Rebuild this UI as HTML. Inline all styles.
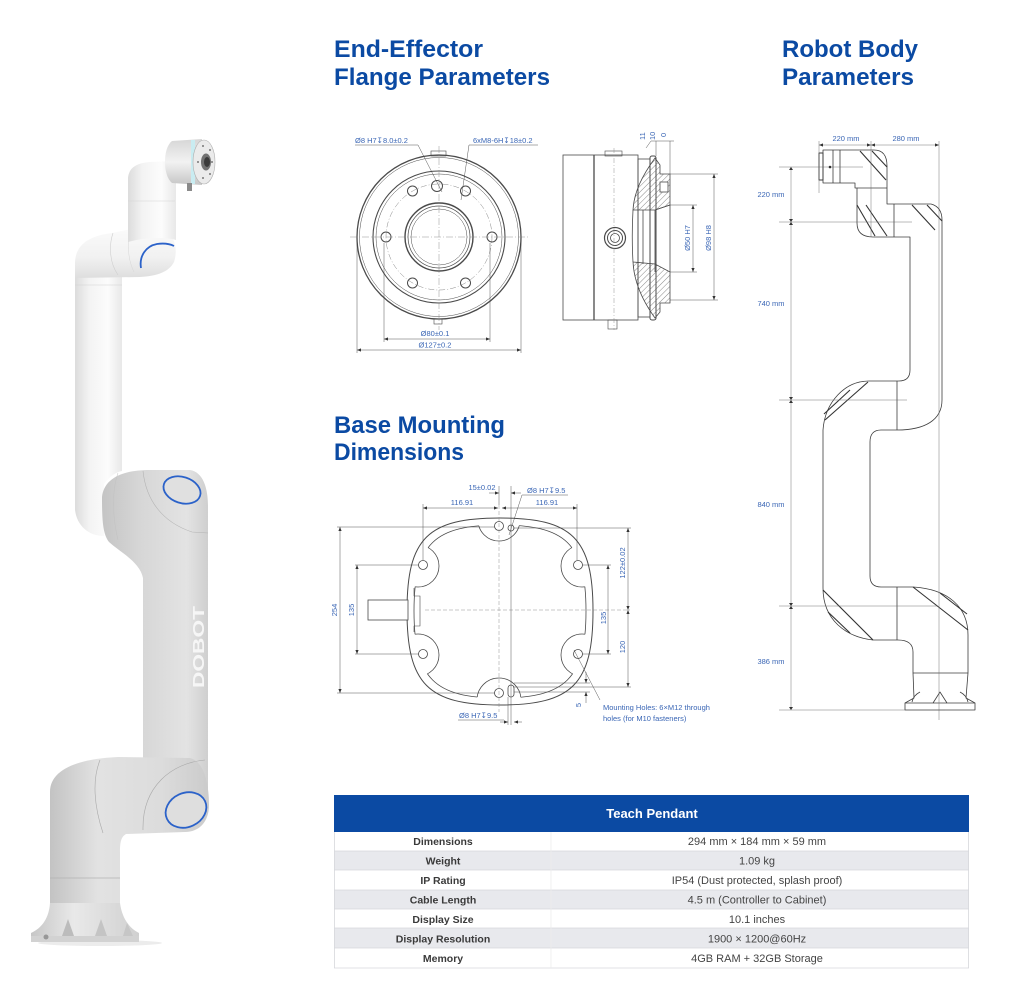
<!DOCTYPE html>
<html><head><meta charset="utf-8"><style>
html,body{margin:0;padding:0;background:#fff;width:1024px;height:997px;overflow:hidden;}
svg{display:block;}
text{font-family:"Liberation Sans","DejaVu Sans",sans-serif;}
.lb{fill:#3a66b5;font-size:7.5px;}
.th{fill:#3a3a3a;font-size:10.5px;font-weight:bold;}
.tv{fill:#444;font-size:11px;}
</style></head><body>
<svg width="1024" height="997" viewBox="0 0 1024 997" xmlns="http://www.w3.org/2000/svg">
<defs>
 <marker id="a" viewBox="0 0 6 6" refX="6" refY="3" markerWidth="4" markerHeight="4" markerUnits="userSpaceOnUse" orient="auto-start-reverse"><path d="M0,0.6 L6,3 L0,5.4Z" fill="#333"/></marker>
 <pattern id="hatch" width="4" height="4" patternUnits="userSpaceOnUse" patternTransform="rotate(45)"><line x1="0" y1="0" x2="0" y2="4" stroke="#555" stroke-width="0.7"/></pattern>
 <linearGradient id="gFoot" x1="0" x2="1" y1="0" y2="0"><stop offset="0" stop-color="#c6c6c6"/><stop offset=".4" stop-color="#e9e9e9"/><stop offset="1" stop-color="#d0d0d0"/></linearGradient>
 <linearGradient id="gBase" x1="0" x2="1" y1="0" y2="0"><stop offset="0" stop-color="#c3c3c3"/><stop offset=".3" stop-color="#e2e2e2"/><stop offset=".7" stop-color="#dcdcdc"/><stop offset="1" stop-color="#cbcbcb"/></linearGradient>
 <linearGradient id="gArm" x1="0" x2="1" y1="0" y2="0"><stop offset="0" stop-color="#c4c4c4"/><stop offset=".35" stop-color="#d6d6d6"/><stop offset=".8" stop-color="#e3e3e3"/><stop offset="1" stop-color="#cfcfcf"/></linearGradient>
 <linearGradient id="gWhite" x1="0" x2="1" y1="0" y2="0"><stop offset="0" stop-color="#dcdcdc"/><stop offset=".3" stop-color="#f3f3f3"/><stop offset=".7" stop-color="#fcfcfc"/><stop offset="1" stop-color="#e8e8e8"/></linearGradient>
 <linearGradient id="gWhiteV" x1="0" x2="0" y1="0" y2="1"><stop offset="0" stop-color="#fbfbfb"/><stop offset=".6" stop-color="#f1f1f1"/><stop offset="1" stop-color="#dedede"/></linearGradient>
 <linearGradient id="gFl" x1="0" x2="0" y1="0" y2="1"><stop offset="0" stop-color="#d6d6d6"/><stop offset=".5" stop-color="#f2f2f2"/><stop offset="1" stop-color="#c6c6c6"/></linearGradient>
 <path id="inner" d="M500,525 C565,525 586,543 586,611 C586,679 565,698 500,698 C435,698 414,679 414,611 C414,543 435,525 500,525Z"/>
 <clipPath id="cpInner"><use href="#inner"/></clipPath>
 <mask id="mkBump" maskUnits="userSpaceOnUse" x="0" y="0" width="1024" height="997">
  <rect x="0" y="0" width="1024" height="997" fill="#fff"/>
  <circle cx="499" cy="520" r="21" fill="#000"/><circle cx="499" cy="700" r="22" fill="#000"/>
  <circle cx="418" cy="566" r="21" fill="#000"/><circle cx="582" cy="566" r="21" fill="#000"/>
  <circle cx="418" cy="655" r="21" fill="#000"/><circle cx="582" cy="655" r="21" fill="#000"/>
 </mask>
</defs>
<rect x="0" y="0" width="1024" height="997" fill="#fff"/>

<!-- ================= ROBOT ARM ================= -->
<ellipse cx="100" cy="943" rx="62" ry="3" fill="#ececec"/>
<!-- forearm white -->
<path d="M75,262 V510 C77,526 89,536 104,536 L104,484 C110,476 116,472 122,471 V262 Z" fill="url(#gWhite)"/>
<line x1="75" y1="285" x2="122" y2="285" stroke="#d2d2d2" stroke-width="0.6"/>
<!-- upper arm grey -->
<path d="M102,497 C104,479 121,470 150,470 L190,470 C203,472 208,488 208,506 L208,790 L143,790 L143,578 C140,562 120,552 109,542 C103,534 102,522 102,497 Z" fill="url(#gArm)"/>
<path d="M143,471 C146,500 162,522 192,532 L208,533" stroke="#b3b3b3" stroke-width="0.6" fill="none"/>
<path d="M118,473 C112,490 112,515 118,540" stroke="#c2c2c2" stroke-width="0.5" fill="none"/>
<ellipse cx="182" cy="490" rx="19" ry="13" transform="rotate(18 182 490)" fill="#e0e0e0" stroke="#2b62c9" stroke-width="1.8"/>
<text transform="translate(204,688) rotate(-90)" font-size="16" font-weight="bold" fill="#f6f6f6" textLength="82" lengthAdjust="spacingAndGlyphs">DOBOT</text>
<!-- base + J2 -->
<path d="M50,905 V792 C50,771 74,759 118,757 L190,758 C203,761 209,781 209,805 C209,822 199,832 185,832 L126,834 C121,837 120,842 120,852 V905 Z" fill="url(#gBase)"/>
<path d="M100,760 C92,780 94,806 103,833" stroke="#a9a9a9" stroke-width="0.6" fill="none"/>
<path d="M205,760 C172,763 142,786 143,830" stroke="#a9a9a9" stroke-width="0.6" fill="none"/>
<ellipse cx="186" cy="810" rx="21" ry="17" transform="rotate(-25 186 810)" fill="#dedede" stroke="#2b62c9" stroke-width="1.8"/>
<line x1="50" y1="878" x2="120" y2="878" stroke="#b2b2b2" stroke-width="0.7"/>
<!-- foot -->
<path d="M50,903 C49,918 42,928 31,933 L31,942 L139,942 L139,933 C129,928 122,918 120,903 Z" fill="url(#gFoot)"/>
<rect x="31" y="936" width="108" height="6" fill="#d2d2d2"/>
<path d="M62,936 L68,919 L74,936Z" fill="#bcbcbc"/>
<path d="M95,936 L101,919 L107,936Z" fill="#c4c4c4"/>
<path d="M123,936 L127,923 L133,936Z" fill="#c6c6c6"/>
<circle cx="46" cy="937" r="2.5" fill="#979797"/>
<!-- J4 elbow -->
<path d="M75,278 V262 C76,245 88,236 112,233 L140,227 L165,230 C175,236 178,250 174,262 C169,272 157,276 140,277 Z" fill="url(#gWhiteV)"/>
<path d="M113,233 C109,245 109,262 118,275" stroke="#cfcfcf" stroke-width="0.6" fill="none"/>
<path d="M132,228 C127,240 127,258 134,272" stroke="#d6d6d6" stroke-width="0.5" fill="none"/>
<path d="M141,268 C139,256 146,246 157,244 C164,243 170,244 174,246" stroke="#2b62c9" stroke-width="1.8" fill="none"/>
<!-- wrist -->
<path d="M128,242 V178 C129,168 136,163 150,162 L172,161 L176,172 V240 C170,238 150,236 128,242 Z" fill="url(#gWhite)"/>
<line x1="128" y1="201" x2="175" y2="201" stroke="#d4d4d4" stroke-width="0.6"/>
<!-- flange -->
<path d="M172,141 L202,139 L202,185 L172,183 C167,179 165,170 165,162 C165,153 167,145 172,141 Z" fill="url(#gFl)"/>
<rect x="191" y="140" width="4" height="44" fill="#c9ecf1"/>
<ellipse cx="204" cy="162" rx="11" ry="22" fill="#ebebeb" stroke="#b0b0b0" stroke-width="0.6"/>
<ellipse cx="206" cy="162" rx="5" ry="8.5" fill="#727272"/>
<ellipse cx="207" cy="162" rx="3" ry="5" fill="#3a3a3a"/>
<g fill="#555"><circle cx="203" cy="146" r="0.9"/><circle cx="210" cy="150" r="0.9"/><circle cx="212" cy="162" r="0.9"/><circle cx="210" cy="174" r="0.9"/><circle cx="203" cy="178" r="0.9"/><circle cx="198" cy="162" r="0.9"/></g>
<rect x="187" y="183" width="5" height="8" fill="#8a8a8a"/>

<!-- ================= HEADINGS ================= -->
<g fill="#0b4aa3" font-weight="bold" font-size="24">
<text x="334" y="57" textLength="149" lengthAdjust="spacingAndGlyphs">End-Effector</text>
<text x="334" y="85" textLength="216" lengthAdjust="spacingAndGlyphs">Flange Parameters</text>
<text x="782" y="57" textLength="136" lengthAdjust="spacingAndGlyphs">Robot Body</text>
<text x="782" y="85" textLength="132" lengthAdjust="spacingAndGlyphs">Parameters</text>
<text x="334" y="433" textLength="171" lengthAdjust="spacingAndGlyphs">Base Mounting</text>
<text x="334" y="460" textLength="130" lengthAdjust="spacingAndGlyphs">Dimensions</text>
</g>

<!-- ================= FLANGE FRONT VIEW ================= -->
<g fill="none" stroke="#4a4a4a" stroke-width="0.8">
<circle cx="439" cy="237" r="82" stroke-width="1.3"/>
<circle cx="439" cy="237" r="79.5" stroke-width="0.5"/>
<circle cx="439" cy="237" r="66" stroke-width="1.1"/>
<circle cx="439" cy="237" r="63" stroke-width="0.5"/>
<circle cx="439" cy="237" r="53" stroke="#888" stroke-width="0.5" stroke-dasharray="6 2 1 2"/>
<circle cx="439" cy="237" r="34" stroke-width="1.4"/>
<circle cx="439" cy="237" r="31" stroke-width="0.7"/>
<circle cx="439" cy="237" r="28" stroke-width="0.5"/>
<circle cx="386" cy="237" r="5" stroke-width="1"/>
<circle cx="492" cy="237" r="5" stroke-width="1"/>
<circle cx="412.5" cy="191" r="5" stroke-width="1"/>
<circle cx="465.5" cy="191" r="5" stroke-width="1"/>
<circle cx="412.5" cy="283" r="5" stroke-width="1"/>
<circle cx="465.5" cy="283" r="5" stroke-width="1"/>
<circle cx="437" cy="186" r="5.5" stroke-width="1"/>
<rect x="431" y="151" width="15" height="5" stroke-width="0.6"/>
<rect x="434" y="319" width="8" height="5" stroke-width="0.6"/>
</g>
<g stroke="#888" stroke-width="0.45" stroke-dasharray="7 2 1 2" fill="none">
<line x1="350" y1="237" x2="528" y2="237"/>
<line x1="439" y1="146" x2="439" y2="330"/>
</g>
<g stroke="#444" stroke-width="0.45" fill="none">
<line x1="384" y1="243" x2="384" y2="342"/>
<line x1="490" y1="243" x2="490" y2="342"/>
<line x1="357" y1="240" x2="357" y2="353"/>
<line x1="521" y1="240" x2="521" y2="353"/>
<line x1="384" y1="339" x2="490" y2="339" marker-start="url(#a)" marker-end="url(#a)"/>
<line x1="357" y1="350" x2="521" y2="350" marker-start="url(#a)" marker-end="url(#a)"/>
<polyline points="355,145 418,145 442,192"/>
<polyline points="538,145 469,145 461,200"/>
</g>
<text class="lb" x="355" y="143">Ø8 H7↧8.0±0.2</text>
<text class="lb" x="473" y="143">6xM8-6H↧18±0.2</text>
<text class="lb" x="435" y="336" text-anchor="middle">Ø80±0.1</text>
<text class="lb" x="435" y="347.5" text-anchor="middle">Ø127±0.2</text>

<!-- ================= FLANGE SIDE VIEW ================= -->
<g fill="none" stroke="#4a4a4a" stroke-width="0.8">
<rect x="563" y="155" width="75" height="165"/>
<line x1="594" y1="155" x2="594" y2="320" stroke-width="1.3"/>
<rect x="638" y="159" width="12" height="158"/>
<rect x="650" y="156" width="6" height="164" rx="2" stroke-width="1"/>
<path d="M655,158 L660,165 L660,174 L670,174 L670,205 L655,210 L633,210 C634,192 642,176 655,158 Z" fill="url(#hatch)"/>
<path d="M633,262 L655,264 L670,272 L670,303 L660,303 L660,312 L655,318 C642,300 634,282 633,262 Z" fill="url(#hatch)"/>
<rect x="660" y="182" width="8" height="10" fill="#fff"/>
<line x1="643" y1="210" x2="643" y2="264"/>
<line x1="655" y1="210" x2="655" y2="272"/>
<line x1="655" y1="210" x2="670" y2="205"/>
<line x1="670" y1="205" x2="670" y2="272"/>
<path d="M633,210 C632,228 632,245 633,262" />
<circle cx="615" cy="238" r="10.5" stroke-width="1.2"/>
<circle cx="615" cy="238" r="7.5" stroke-width="1"/>
<circle cx="615" cy="238" r="4.5" stroke-width="0.8"/>
<rect x="605" y="151" width="17" height="5" stroke-width="0.6"/>
<rect x="608" y="320" width="9" height="9" stroke-width="0.6"/>
</g>
<line x1="614" y1="148" x2="614" y2="330" stroke="#888" stroke-width="0.45" stroke-dasharray="5 2 1 2"/>
<g stroke="#444" stroke-width="0.45" fill="none">
<line x1="670" y1="205" x2="697" y2="205"/>
<line x1="670" y1="272" x2="697" y2="272"/>
<line x1="670" y1="174" x2="718" y2="174"/>
<line x1="670" y1="300" x2="718" y2="300"/>
<line x1="693" y1="205" x2="693" y2="272" marker-start="url(#a)" marker-end="url(#a)"/>
<line x1="714" y1="174" x2="714" y2="300" marker-start="url(#a)" marker-end="url(#a)"/>
<line x1="656" y1="141" x2="656" y2="156"/>
<line x1="670" y1="141" x2="670" y2="174"/>
<polyline points="646,148 651,141 674,141"/>
</g>
<text class="lb" transform="translate(690,238) rotate(-90)" text-anchor="middle">Ø50 H7</text>
<text class="lb" transform="translate(711,238) rotate(-90)" text-anchor="middle">Ø98 H8</text>
<text class="lb" transform="translate(645,140) rotate(-90)">11</text>
<text class="lb" transform="translate(655,140) rotate(-90)">10</text>
<text class="lb" transform="translate(666,137) rotate(-90)">0</text>

<!-- ================= ROBOT BODY DRAWING ================= -->
<g fill="none" stroke="#3d3d3d" stroke-width="0.8" stroke-linejoin="round">
<path d="M942,220 V400 C942,420 925,430 897,430 H881 Q870,430 870,442 V576 Q870,587 881,587 H913 C948,589 968,607 968,635 V673 L966,698 L975,703 V710 H905 V703 L914,698 L913,673 V652 Q913,640 898,640 H873 C846,637 823,620 823,588 V430 C825,402 845,381 869,381 H899 Q910,381 910,370 V237 H873 Q857,237 857,223 V188 H855 V183 H823 V150 H874 Q887,150 887,166 V204 H931 Q942,207 942,220 Z"/>
<rect x="819" y="153" width="4" height="27" stroke-width="1"/>
<line x1="833" y1="150" x2="833" y2="183"/>
<line x1="840" y1="150" x2="840" y2="183"/>
<line x1="857" y1="188" x2="887" y2="188"/>
<line x1="894" y1="204" x2="894" y2="237"/>
<line x1="897" y1="381" x2="897" y2="430"/>
<line x1="897" y1="587" x2="897" y2="640"/>
<line x1="913" y1="673" x2="968" y2="673"/>
<line x1="905" y1="703" x2="975" y2="703"/>
<path d="M933,703 L940,692 L947,703"/>
<path d="M912,702 C913,697 916,694 920,692"/>
<path d="M968,702 C967,697 964,694 960,692"/>
</g>
<circle cx="830" cy="167" r="1.3" fill="#222"/>
<g stroke="#333" stroke-width="1.1" fill="none">
<line x1="860" y1="151" x2="886" y2="180"/><line x1="872" y1="151" x2="887" y2="167"/>
<line x1="857" y1="205" x2="875" y2="236"/><line x1="866" y1="205" x2="887" y2="236"/>
<line x1="912" y1="205" x2="935" y2="230"/><line x1="927" y1="205" x2="942" y2="221"/>
<line x1="868" y1="382" x2="825" y2="420"/><line x1="850" y1="390" x2="824" y2="414"/>
<line x1="823" y1="590" x2="873" y2="640"/><line x1="828" y1="612" x2="850" y2="633"/>
<line x1="913" y1="587" x2="968" y2="630"/><line x1="940" y1="593" x2="967" y2="614"/>
</g>
<g stroke="#666" stroke-width="0.45" fill="none">
<line x1="819" y1="141" x2="819" y2="193"/>
<line x1="871" y1="141" x2="871" y2="237"/>
<line x1="939" y1="141" x2="939" y2="720"/>
<line x1="819" y1="145" x2="871" y2="145" marker-start="url(#a)" marker-end="url(#a)"/>
<line x1="871" y1="145" x2="939" y2="145" marker-start="url(#a)" marker-end="url(#a)"/>
<line x1="791" y1="167" x2="791" y2="710"/>
<line x1="779" y1="167" x2="863" y2="167"/>
<line x1="779" y1="222" x2="912" y2="222"/>
<line x1="779" y1="400" x2="907" y2="400"/>
<line x1="779" y1="606" x2="937" y2="606"/>
<line x1="779" y1="710" x2="945" y2="710"/>
</g>
<g fill="#333">
<path d="M789,170 L791,167 L793,170Z"/><path d="M789,219 L791,222 L793,219Z"/><path d="M789,225 L791,222 L793,225Z"/>
<path d="M789,397 L791,400 L793,397Z"/><path d="M789,403 L791,400 L793,403Z"/>
<path d="M789,603 L791,606 L793,603Z"/><path d="M789,609 L791,606 L793,609Z"/><path d="M789,707 L791,710 L793,707Z"/>
</g>
<text class="lb" x="846" y="141" text-anchor="middle">220 mm</text>
<text class="lb" x="906" y="141" text-anchor="middle">280 mm</text>
<text class="lb" x="771" y="197" text-anchor="middle">220 mm</text>
<text class="lb" x="771" y="306" text-anchor="middle">740 mm</text>
<text class="lb" x="771" y="507" text-anchor="middle">840 mm</text>
<text class="lb" x="771" y="664" text-anchor="middle">386 mm</text>

<!-- ================= BASE MOUNTING ================= -->
<g fill="none" stroke="#4a4a4a" stroke-width="0.8">
<path d="M500,518 C572,518 593,538 593,611 C593,684 572,705 500,705 C428,705 407,684 407,611 C407,538 428,518 500,518Z" stroke-width="1"/>
<use href="#inner" mask="url(#mkBump)"/>
<g clip-path="url(#cpInner)">
 <circle cx="499" cy="520" r="21"/><circle cx="499" cy="700" r="22"/>
 <circle cx="418" cy="566" r="21"/><circle cx="582" cy="566" r="21"/>
 <circle cx="418" cy="655" r="21"/><circle cx="582" cy="655" r="21"/>
</g>
<circle cx="499" cy="526" r="4.5"/><circle cx="423" cy="565" r="4.5"/><circle cx="578" cy="565" r="4.5"/>
<circle cx="423" cy="654" r="4.5"/><circle cx="578" cy="654" r="4.5"/><circle cx="499" cy="693" r="4.5"/>
<circle cx="511" cy="528" r="3"/>
<rect x="508" y="685" width="6" height="12" rx="3"/>
<rect x="368" y="600" width="40" height="20" fill="#fff"/>
<path d="M414,588 V596 H420 V626 H414 V632" stroke-width="0.6"/>
</g>
<g stroke="#888" stroke-width="0.45" stroke-dasharray="4 2" fill="none">
<line x1="499" y1="505" x2="499" y2="712"/>
<line x1="425" y1="610" x2="630" y2="610"/>
</g>
<g stroke="#444" stroke-width="0.45" fill="none">
<line x1="511" y1="486" x2="511" y2="725"/>
<line x1="499" y1="486" x2="499" y2="505"/>
<line x1="423" y1="504" x2="423" y2="560"/>
<line x1="577" y1="504" x2="577" y2="560"/>
<line x1="423" y1="508" x2="498" y2="508" marker-start="url(#a)" marker-end="url(#a)"/>
<line x1="502" y1="508" x2="577" y2="508" marker-start="url(#a)" marker-end="url(#a)"/>
<line x1="489" y1="493" x2="499" y2="493" marker-end="url(#a)"/>
<line x1="521" y1="493" x2="511" y2="493" marker-end="url(#a)"/>
<polyline points="568,495 522,495 509,535"/>
<line x1="337" y1="527" x2="495" y2="527"/>
<line x1="337" y1="693" x2="495" y2="693"/>
<line x1="340" y1="527" x2="340" y2="693" marker-start="url(#a)" marker-end="url(#a)"/>
<line x1="355" y1="565" x2="419" y2="565"/>
<line x1="355" y1="654" x2="419" y2="654"/>
<line x1="357" y1="565" x2="357" y2="654" marker-start="url(#a)" marker-end="url(#a)"/>
<line x1="513" y1="528" x2="631" y2="528"/>
<line x1="513" y1="687" x2="631" y2="687"/>
<line x1="628" y1="528" x2="628" y2="610" marker-start="url(#a)" marker-end="url(#a)"/>
<line x1="628" y1="610" x2="628" y2="687" marker-start="url(#a)" marker-end="url(#a)"/>
<line x1="582" y1="565" x2="611" y2="565"/>
<line x1="582" y1="654" x2="611" y2="654"/>
<line x1="608" y1="565" x2="608" y2="654" marker-start="url(#a)" marker-end="url(#a)"/>
<line x1="514" y1="683" x2="590" y2="683"/>
<line x1="514" y1="692" x2="590" y2="692"/>
<line x1="586" y1="672" x2="586" y2="683" marker-end="url(#a)"/>
<line x1="586" y1="703" x2="586" y2="692" marker-end="url(#a)"/>
<line x1="600" y1="700" x2="574" y2="650"/>
<line x1="508" y1="697" x2="508" y2="725"/>
<line x1="458" y1="720" x2="504" y2="720"/>
<line x1="500" y1="722" x2="508" y2="722" marker-end="url(#a)"/>
<line x1="522" y1="722" x2="514" y2="722" marker-end="url(#a)"/>
</g>
<text class="lb" x="482" y="490" text-anchor="middle">15±0.02</text>
<text class="lb" x="527" y="493">Ø8 H7↧9.5</text>
<text class="lb" x="462" y="505" text-anchor="middle">116.91</text>
<text class="lb" x="547" y="505" text-anchor="middle">116.91</text>
<text class="lb" transform="translate(337,610) rotate(-90)" text-anchor="middle">254</text>
<text class="lb" transform="translate(354,610) rotate(-90)" text-anchor="middle">135</text>
<text class="lb" transform="translate(625,563) rotate(-90)" text-anchor="middle">122±0.02</text>
<text class="lb" transform="translate(606,618) rotate(-90)" text-anchor="middle">135</text>
<text class="lb" transform="translate(625,647) rotate(-90)" text-anchor="middle">120</text>
<text class="lb" transform="translate(581,705) rotate(-90)" text-anchor="middle">5</text>
<text class="lb" x="603" y="710">Mounting Holes: 6×M12 through</text>
<text class="lb" x="603" y="721">holes (for M10 fasteners)</text>
<text class="lb" x="459" y="718">Ø8 H7↧9.5</text>

<!-- ================= TABLE ================= -->
<rect x="334" y="795" width="635" height="37" fill="#0b4aa3"/>
<text x="652" y="818" text-anchor="middle" font-size="13" font-weight="bold" fill="#fff">Teach Pendant</text>
<rect x="334" y="851" width="635" height="19" fill="#e8e9ed"/>
<rect x="334" y="890" width="635" height="19" fill="#e8e9ed"/>
<rect x="334" y="928" width="635" height="20" fill="#e8e9ed"/>
<g stroke="#d6d7db" stroke-width="0.8">
<line x1="334" y1="851" x2="969" y2="851"/><line x1="334" y1="870" x2="969" y2="870"/>
<line x1="334" y1="890" x2="969" y2="890"/><line x1="334" y1="909" x2="969" y2="909"/>
<line x1="334" y1="928" x2="969" y2="928"/><line x1="334" y1="948" x2="969" y2="948"/>
<line x1="334" y1="968" x2="969" y2="968"/>
<line x1="334.5" y1="832" x2="334.5" y2="968"/><line x1="968.5" y1="832" x2="968.5" y2="968"/>
<line x1="551" y1="832" x2="551" y2="968" stroke="#ececec"/>
</g>
<text class="th" x="443" y="845" text-anchor="middle">Dimensions</text>
<text class="th" x="443" y="864.5" text-anchor="middle">Weight</text>
<text class="th" x="443" y="884" text-anchor="middle">IP Rating</text>
<text class="th" x="443" y="903.5" text-anchor="middle">Cable Length</text>
<text class="th" x="443" y="923" text-anchor="middle">Display Size</text>
<text class="th" x="443" y="942.5" text-anchor="middle">Display Resolution</text>
<text class="th" x="443" y="962" text-anchor="middle">Memory</text>
<text class="tv" x="757" y="845" text-anchor="middle">294 mm × 184 mm × 59 mm</text>
<text class="tv" x="757" y="864.5" text-anchor="middle">1.09 kg</text>
<text class="tv" x="757" y="884" text-anchor="middle">IP54 (Dust protected, splash proof)</text>
<text class="tv" x="757" y="903.5" text-anchor="middle">4.5 m (Controller to Cabinet)</text>
<text class="tv" x="757" y="923" text-anchor="middle">10.1 inches</text>
<text class="tv" x="757" y="942.5" text-anchor="middle">1900 × 1200@60Hz</text>
<text class="tv" x="757" y="962" text-anchor="middle">4GB RAM + 32GB Storage</text>
</svg>
</body></html>
